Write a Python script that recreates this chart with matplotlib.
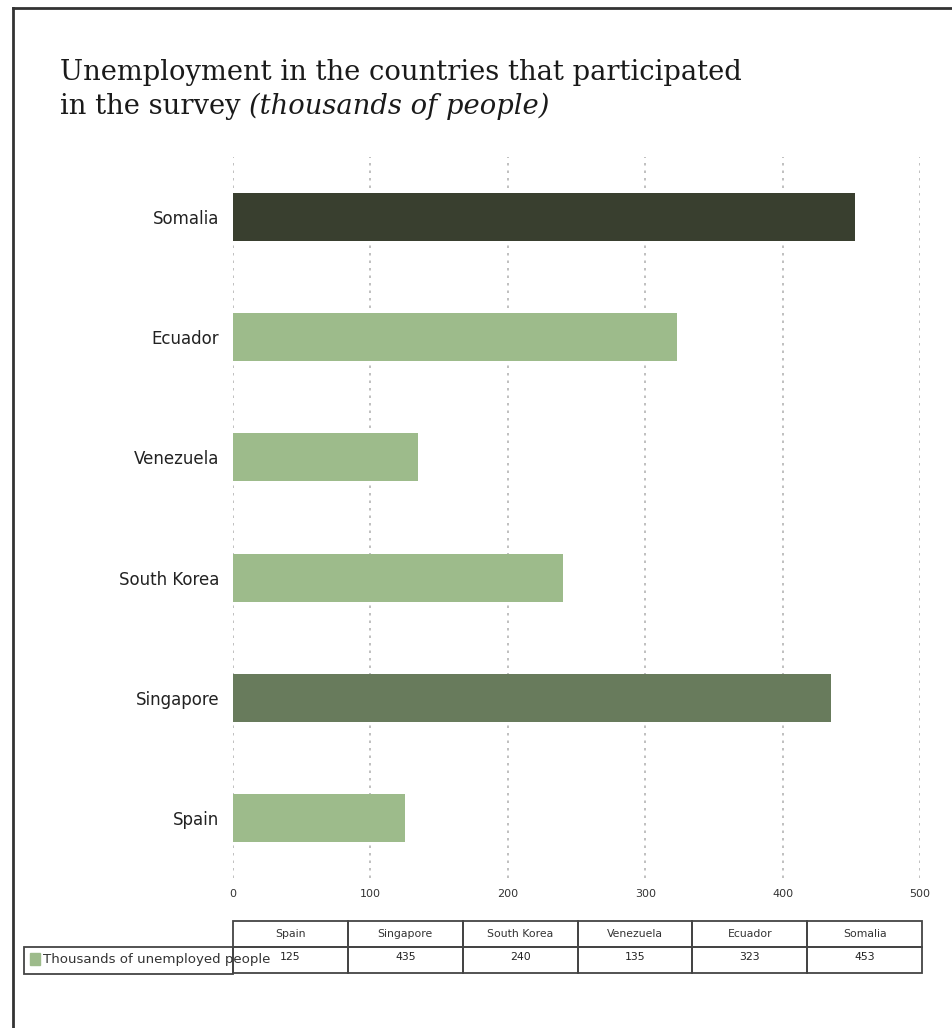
import matplotlib.pyplot as plt
from matplotlib.patches import Rectangle
from matplotlib.lines import Line2D

# --- data ---
countries = ['Spain', 'Singapore', 'South Korea', 'Venezuela', 'Ecuador', 'Somalia']
unemployed = [125, 435, 240, 135, 323, 453]
series_label = 'Thousands of unemployed people'
x_ticks = [0, 100, 200, 300, 400, 500]

light = '#9dbb8b'
bar_colors = {'Somalia': '#393f2f', 'Singapore': '#687b5c'}
colors = [bar_colors.get(c, light) for c in countries]

W, H = 952, 1028
fig = plt.figure(figsize=(W / 100, H / 100), dpi=100)


def fx(x):
    return x / W


def fy(y):
    return 1 - y / H


# outer frame (left and top edges visible)
fig.add_artist(Line2D([fx(13), fx(13)], [fy(8), fy(1030)], color='#333333', lw=2))
fig.add_artist(Line2D([fx(13), fx(960)], [fy(8), fy(8)], color='#333333', lw=2))

# title
title_font = dict(family='DejaVu Serif', fontsize=19.7, va='center', ha='left', color='#1a1a1a')
fig.text(fx(60), fy(72), 'Unemployment in the countries that participated', **title_font)
t2 = fig.text(fx(60), fy(106), 'in the survey ', **title_font)
fig.canvas.draw()
bb = t2.get_window_extent()
fig.text(bb.x1 / W, fy(106), '(thousands of people)', style='italic', **title_font)

# --- bar chart ---
ax = fig.add_axes([fx(233), fy(878), fx(920) - fx(233), fy(157) - fy(878)])
ypos = list(range(len(countries)))
ax.barh(ypos, unemployed, height=0.4, color=colors, zorder=3)
ax.set_xlim(0, 500)
ax.set_ylim(-0.5, len(countries) - 0.5)
ax.set_yticks(ypos)
ax.set_yticklabels(countries, fontsize=12, color='#222222')
ax.set_xticks(x_ticks)
ax.set_xticklabels([str(t) for t in x_ticks], fontsize=8, color='#333333')
ax.tick_params(axis='both', length=0)
ax.tick_params(axis='x', pad=8)
ax.tick_params(axis='y', pad=10)
for s in ax.spines.values():
    s.set_visible(False)
ax.grid(axis='x', linestyle=(0, (1.5, 3)), color='#b5b5b5', lw=1.2, zorder=0)
ax.set_axisbelow(True)

# --- data table under the chart ---
left, right = 233, 922
cw = (right - left) / len(countries)
line_c = '#444444'


def cell(x0, y0, x1, y1):
    fig.add_artist(Rectangle((fx(x0), fy(y1)), fx(x1) - fx(x0), fy(y0) - fy(y1),
                             transform=fig.transFigure, fill=False,
                             edgecolor=line_c, lw=1.3))


cell(24, 947, 233, 974)
for i, (c, v) in enumerate(zip(countries, unemployed)):
    x0 = left + i * cw
    cell(x0, 921, x0 + cw, 947)
    cell(x0, 947, x0 + cw, 973)
    fig.text(fx(x0 + cw / 2), fy(934), c, fontsize=7.8, ha='center', va='center', color='#333333')
    fig.text(fx(x0 + cw / 2), fy(957), str(v), fontsize=7.8, ha='center', va='center', color='#222222')

fig.add_artist(Rectangle((fx(30), fy(965)), fx(40) - fx(30), fy(953) - fy(965),
                         transform=fig.transFigure, color=light))
fig.text(fx(43), fy(960), series_label, fontsize=9.6, ha='left', va='center', color='#333333')

fig.savefig('out.png', dpi=100)
